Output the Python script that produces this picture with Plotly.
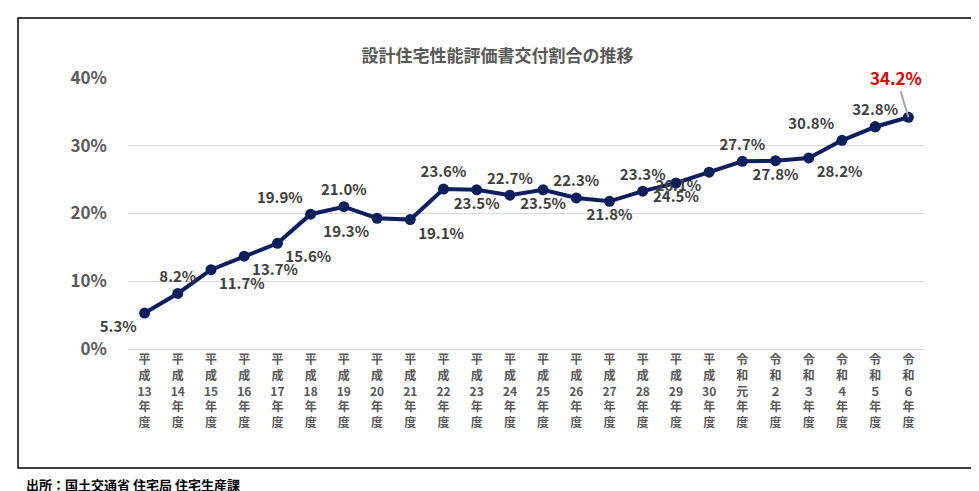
import plotly.graph_objects as go

years = ["平成13年度", "平成14年度", "平成15年度", "平成16年度", "平成17年度", "平成18年度",
         "平成19年度", "平成20年度", "平成21年度", "平成22年度", "平成23年度", "平成24年度",
         "平成25年度", "平成26年度", "平成27年度", "平成28年度", "平成29年度", "平成30年度",
         "令和元年度", "令和２年度", "令和３年度", "令和４年度", "令和５年度", "令和６年度"]
rates = [5.3, 8.2, 11.7, 13.7, 15.6, 19.9, 21.0, 19.3, 19.1, 23.6, 23.5, 22.7,
         23.5, 22.3, 21.8, 23.3, 24.5, 26.1, 27.7, 27.8, 28.2, 30.8, 32.8, 34.2]
label_pos = ["bottom left", "top center", "bottom right", "bottom right", "bottom right",
             "top left", "top center", "bottom left", "bottom right", "top center",
             "bottom center", "top center", "bottom center", "top center", "bottom center",
             "top center", "bottom center", "bottom left", "top center", "bottom center",
             "bottom right", "top left", "top center", "top center"]


def vertical(s):
    # stack characters like Japanese vertical writing, keep digits together
    parts, buf = [], ""
    for ch in s:
        if ch.isdigit() and ch.isascii():
            buf += ch
        else:
            if buf:
                parts.append(buf)
                buf = ""
            parts.append(ch)
    if buf:
        parts.append(buf)
    return "<b>" + "<br>".join(parts) + "</b>"


ticktext = [vertical(y) for y in years]
labels = [f"<b>{v:.1f}%</b>" for v in rates]

fig = go.Figure()
fig.add_trace(go.Scatter(
    x=years[:-1], y=rates[:-1], mode="lines+markers+text",
    line=dict(color="#0b1f5c", width=4),
    marker=dict(size=11, color="#0b1f5c"),
    text=labels[:-1], textposition=label_pos[:-1],
    textfont=dict(size=15, color="#404040", family="Noto Sans CJK JP"),
    cliponaxis=False, showlegend=False,
))
fig.add_trace(go.Scatter(
    x=years[-2:], y=rates[-2:], mode="lines+markers",
    line=dict(color="#0b1f5c", width=4),
    marker=dict(size=11, color="#0b1f5c"), showlegend=False,
))
fig.add_annotation(x=years[-1], y=rates[-1], text=labels[-1],
                   ax=-12, ay=-40, showarrow=True, arrowhead=0, arrowwidth=2,
                   arrowcolor="#a6a6a6",
                   font=dict(size=17, color="#e00000", family="Noto Sans CJK JP"))

fig.update_layout(
    width=979, height=491,
    paper_bgcolor="white", plot_bgcolor="white",
    margin=dict(l=120, r=62, t=70, b=150),
    title=dict(text="<b>設計住宅性能評価書交付割合の推移</b>", x=0.5, y=0.915,
               font=dict(size=17, color="#595959", family="Noto Sans CJK JP")),
    font=dict(family="Noto Sans CJK JP", color="#595959"),
    xaxis=dict(tickmode="array", tickvals=years, ticktext=ticktext, tickangle=0,
               tickfont=dict(size=12, color="#595959"), showgrid=False,
               showline=True, linecolor="#d9d9d9", range=[-0.5, 23.5]),
    yaxis=dict(range=[0, 40], tickvals=[0, 10, 20, 30, 40],
               ticktext=["<b>0%</b>", "<b>10%</b>", "<b>20%</b>", "<b>30%</b>", "<b>40%</b>"],
               tickfont=dict(size=17, color="#595959"),
               gridcolor="#d9d9d9", zeroline=False, ticklabelstandoff=20),
    shapes=[dict(type="rect", xref="paper", yref="paper", x0=-0.138, x1=1.064,
                 y0=-0.439, y1=1.221, line=dict(color="black", width=1.5))],
)
fig.add_annotation(xref="paper", yref="paper", x=-0.13, y=-0.5, xanchor="left",
                   yanchor="middle", showarrow=False,
                   text="<b>出所：国土交通省 住宅局 住宅生産課</b>",
                   font=dict(size=13, color="black"))
fig.write_html("out.html")
